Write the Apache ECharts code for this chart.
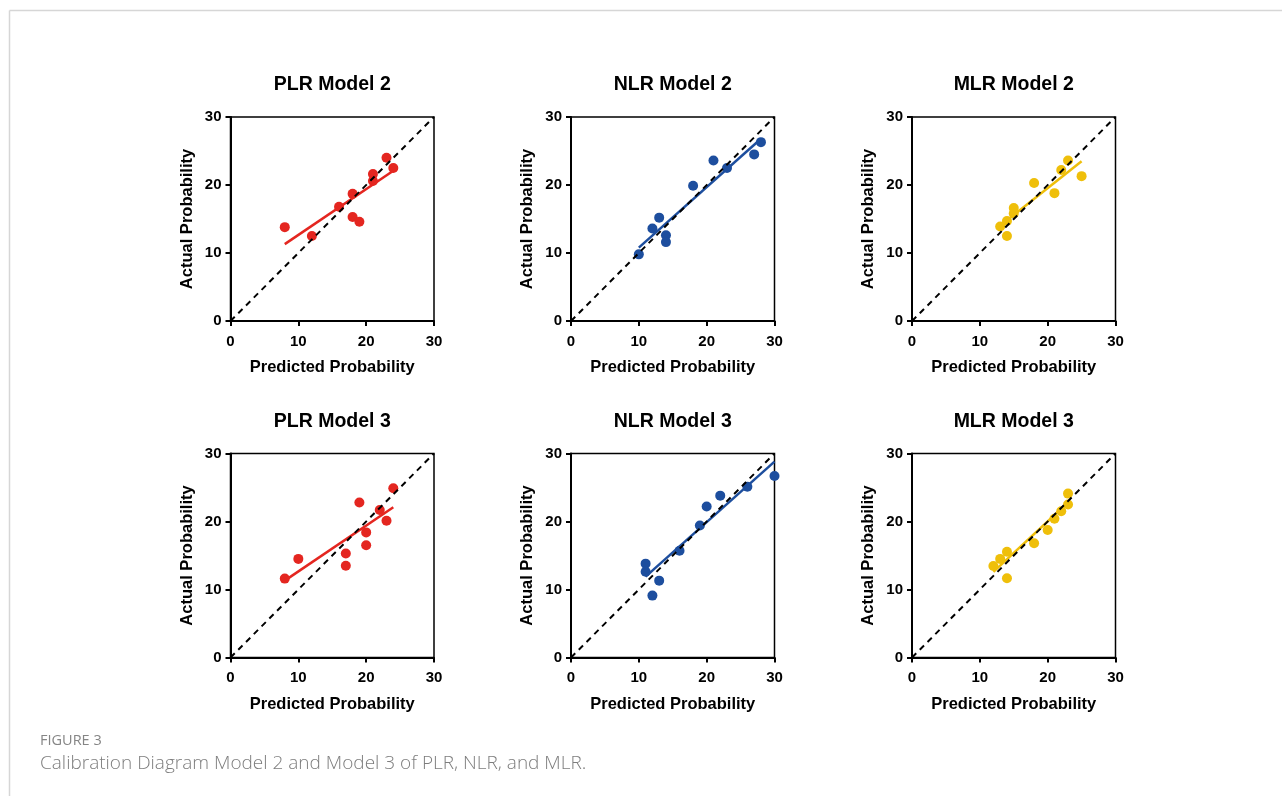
<!DOCTYPE html>
<html>
<head>
<meta charset="utf-8">
<script src="https://cdn.jsdelivr.net/npm/echarts@6/dist/echarts.min.js"></script>
<style>
html,body{margin:0;padding:0;background:#fff;}
#chart{width:1282px;height:796px;}
</style>
</head>
<body>
<div id="chart"></div>
<script>
// ---- data ----
const panelTitles = ['PLR Model 2', 'NLR Model 2', 'MLR Model 2', 'PLR Model 3', 'NLR Model 3', 'MLR Model 3'];
const axisTicks = [0, 10, 20, 30];
const xAxisName = 'Predicted Probability';
const yAxisName = 'Actual Probability';

const plr2Pred   = [8, 12, 16, 18, 18, 19, 21, 21, 23, 24];
const plr2Actual = [13.8, 12.5, 16.8, 18.7, 15.3, 14.6, 21.6, 20.6, 24.0, 22.5];
const plr2Fit    = [[8, 11.3], [24, 22.1]];

const nlr2Pred   = [10, 12, 13, 14, 14, 18, 21, 23, 27, 28];
const nlr2Actual = [9.8, 13.6, 15.2, 12.6, 11.6, 19.9, 23.6, 22.5, 24.5, 26.3];
const nlr2Fit    = [[10, 10.8], [28, 26.8]];

const mlr2Pred   = [13, 14, 14, 15, 15, 18, 21, 22, 23, 25];
const mlr2Actual = [13.9, 14.7, 12.5, 16.6, 15.8, 20.3, 18.8, 22.2, 23.6, 21.3];
const mlr2Fit    = [[13, 14.0], [25, 23.5]];

const plr3Pred   = [8, 10, 17, 17, 19, 20, 20, 22, 23, 24];
const plr3Actual = [11.6, 14.5, 15.3, 13.5, 22.8, 18.4, 16.5, 21.7, 20.1, 24.9];
const plr3Fit    = [[8, 11.3], [24, 22.1]];

const nlr3Pred   = [11, 11, 12, 13, 16, 19, 20, 22, 26, 30];
const nlr3Actual = [13.8, 12.6, 9.1, 11.3, 15.7, 19.4, 22.2, 23.8, 25.1, 26.7];
const nlr3Fit    = [[11, 11.9], [30, 28.8]];

const mlr3Pred   = [12, 13, 14, 14, 18, 20, 21, 22, 23, 23];
const mlr3Actual = [13.45, 14.5, 15.55, 11.65, 16.8, 18.75, 20.4, 21.5, 24.1, 22.5];
const mlr3Fit    = [[12, 12.6], [23, 22.8]];

const diagonal = [[0, 0], [30, 30]];

const captionLabel = 'FIGURE 3';
const captionText = 'Calibration Diagram Model 2 and Model 3 of PLR, NLR, and MLR.';

// ---- build ----
const RED = '#e42620', BLUE = '#1d4e9e', YELLOW = '#efbf0a';
const panels = [
  {pred: plr2Pred, act: plr2Actual, fit: plr2Fit, color: RED},
  {pred: nlr2Pred, act: nlr2Actual, fit: nlr2Fit, color: BLUE},
  {pred: mlr2Pred, act: mlr2Actual, fit: mlr2Fit, color: YELLOW},
  {pred: plr3Pred, act: plr3Actual, fit: plr3Fit, color: RED},
  {pred: nlr3Pred, act: nlr3Actual, fit: nlr3Fit, color: BLUE},
  {pred: mlr3Pred, act: mlr3Actual, fit: mlr3Fit, color: YELLOW}
];
const lefts = [230.5, 571, 912];
const tops = [117, 453.5];
const W = 203.5, H = 204;
const FONT = '"Liberation Sans", Arial, Helvetica, sans-serif';

const grids = [], xAxes = [], yAxes = [], series = [], graphics = [];
panels.forEach((p, i) => {
  const col = i % 3, row = Math.floor(i / 3);
  grids.push({left: lefts[col], top: tops[row], width: W, height: H, show: true,
    borderColor: '#000', borderWidth: 1.5, backgroundColor: 'transparent', containLabel: false});
  const axisCommon = {
    gridIndex: i, type: 'value', min: axisTicks[0], max: axisTicks[axisTicks.length - 1],
    interval: axisTicks[1] - axisTicks[0],
    axisLine: {show: true, onZero: false, lineStyle: {color: '#000', width: 2}},
    axisTick: {show: true, inside: false, length: 5, lineStyle: {color: '#000', width: 2}},
    splitLine: {show: false},
    nameLocation: 'middle',
    nameTextStyle: {fontFamily: FONT, fontWeight: 'bold', fontSize: 16.5, color: '#000'}
  };
  xAxes.push(Object.assign({}, axisCommon, {
    name: xAxisName, nameGap: 38,
    axisLabel: {margin: 13, fontFamily: FONT, fontWeight: 'bold', fontSize: 15, color: '#000'}
  }));
  yAxes.push(Object.assign({}, axisCommon, {
    name: yAxisName, nameGap: 35,
    axisLabel: {margin: 9, fontFamily: FONT, fontWeight: 'bold', fontSize: 15, color: '#000'}
  }));
  series.push({
    type: 'scatter', xAxisIndex: i, yAxisIndex: i, z: 2,
    symbol: 'circle', symbolSize: 10, itemStyle: {color: p.color, opacity: 1},
    data: p.pred.map((x, k) => [x, p.act[k]]), silent: true
  });
  series.push({
    type: 'line', xAxisIndex: i, yAxisIndex: i, z: 3, symbol: 'none',
    lineStyle: {color: p.color, width: 2.5}, data: p.fit, silent: true
  });
  series.push({
    type: 'line', xAxisIndex: i, yAxisIndex: i, z: 4, symbol: 'none',
    lineStyle: {color: '#000', width: 2, type: [6, 5]}, data: diagonal, silent: true
  });
  graphics.push({
    type: 'text', x: lefts[col] + W / 2, y: tops[row] - 32,
    style: {text: panelTitles[i], fontFamily: FONT, fontWeight: 'bold', fontSize: 19.5,
      fill: '#000', textAlign: 'center', textVerticalAlign: 'middle'}
  });
});

// card border
graphics.push({type: 'line', shape: {x1: 9.5, y1: 10.5, x2: 1282, y2: 10.5},
  style: {stroke: '#d6d6d6', lineWidth: 1.5}});
graphics.push({type: 'line', shape: {x1: 9.5, y1: 10.5, x2: 9.5, y2: 796},
  style: {stroke: '#d6d6d6', lineWidth: 1.5}});
// caption
graphics.push({type: 'text', x: 40, y: 741,
  style: {text: captionLabel, fontFamily: '"Open Sans", sans-serif', fontSize: 14.5,
    fill: '#858585', textVerticalAlign: 'middle'}});
graphics.push({type: 'text', x: 40, y: 764,
  style: {text: captionText, fontFamily: '"Open Sans", sans-serif', fontSize: 19, fontWeight: 300,
    fill: '#7d7d7d', textVerticalAlign: 'middle'}});

const chart = echarts.init(document.getElementById('chart'), null, {renderer: 'canvas'});
chart.setOption({
  animation: false,
  backgroundColor: '#fff',
  grid: grids, xAxis: xAxes, yAxis: yAxes, series: series, graphic: graphics
});
</script>
</body>
</html>
